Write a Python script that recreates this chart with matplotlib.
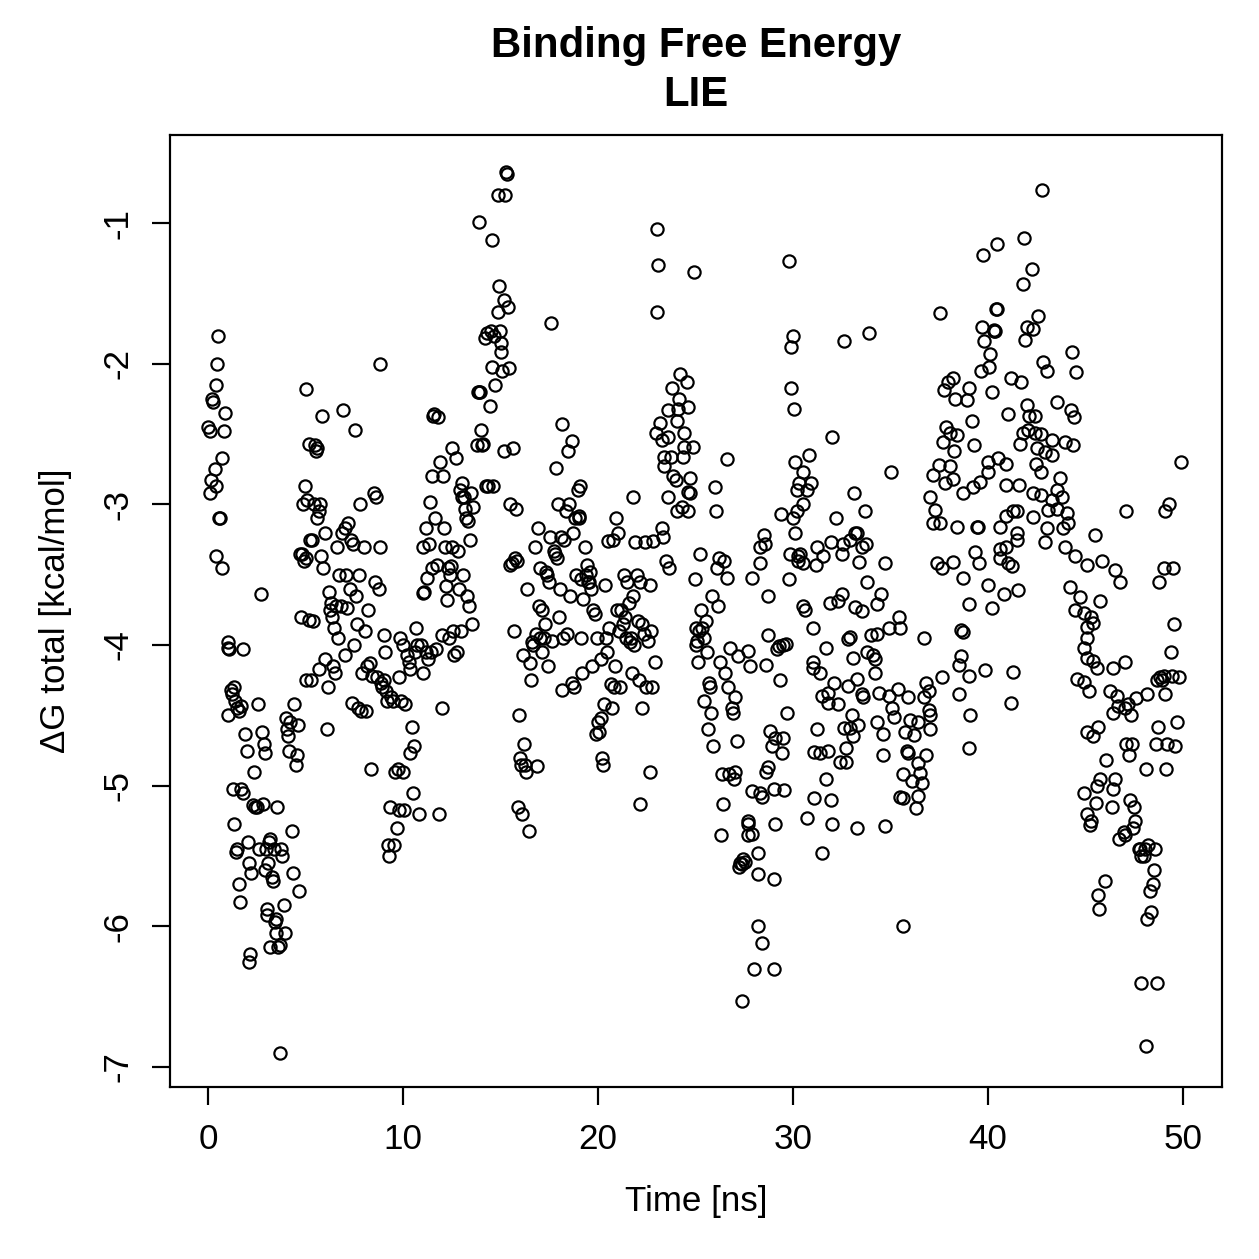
import numpy as np
import matplotlib
matplotlib.use("Agg")
import matplotlib.pyplot as plt

plt.rcParams['font.family'] = ['Liberation Sans', 'DejaVu Sans']
plt.rcParams['axes.unicode_minus'] = False

# (time [ns], dG total [kcal/mol]), in blocks
block_00_10 = [
    (0.0, -2.45), (0.1, -2.48), (0.1, -2.92), (0.15, -2.83), (0.2, -2.25), (0.25, -2.27),
    (0.35, -2.75), (0.4, -2.15), (0.45, -2.0), (0.5, -1.8), (0.4, -2.87), (0.55, -3.1),
    (0.6, -3.1), (0.4, -3.37), (0.7, -3.45), (0.7, -2.67), (0.8, -2.48), (0.85, -2.35),
    (1.0, -4.5), (1.0, -3.98), (1.05, -4.02), (1.1, -4.03), (1.2, -4.32), (1.25, -4.35),
    (1.35, -4.3), (1.4, -4.4), (1.5, -4.45), (1.6, -4.47), (1.7, -4.43), (1.8, -4.03),
    (1.3, -5.02), (1.35, -5.27), (1.45, -5.47), (1.5, -5.45), (1.6, -5.7), (1.65, -5.83),
    (1.7, -5.02), (1.8, -5.05), (1.9, -4.63), (2.0, -4.75), (2.05, -5.4), (2.1, -5.55),
    (2.1, -6.25), (2.15, -6.2), (2.2, -5.62), (2.3, -5.14), (2.35, -4.9), (2.4, -5.15),
    (2.5, -5.15), (2.55, -4.42), (2.6, -5.45), (2.7, -3.64), (2.75, -4.62), (2.8, -5.13),
    (2.85, -4.7), (2.9, -4.77), (2.9, -5.6), (2.95, -5.45), (3.0, -5.88), (3.05, -5.92),
    (3.1, -5.55), (3.15, -5.4), (3.2, -5.38), (3.2, -6.15), (3.3, -5.65), (3.35, -5.68),
    (3.4, -5.45), (3.45, -5.97), (3.5, -5.95), (3.5, -6.05), (3.55, -5.15), (3.6, -6.15),
    (3.7, -6.9), (3.7, -6.13), (3.75, -5.45), (3.8, -5.5), (3.9, -5.85), (3.95, -6.05),
    (4.0, -4.52), (4.05, -4.6), (4.1, -4.65), (4.15, -4.75), (4.2, -4.55), (4.3, -5.32),
    (4.35, -5.62), (4.4, -4.42), (4.5, -4.85), (4.55, -4.78), (4.6, -4.57), (4.65, -5.75),
    (4.7, -3.35), (4.75, -3.8), (4.8, -3.35), (4.85, -3.0), (4.9, -3.4), (4.95, -2.87),
    (5.0, -2.18), (5.0, -4.25), (5.05, -3.38), (5.1, -2.97), (5.2, -2.57), (5.2, -3.82),
    (5.25, -3.25), (5.3, -4.25), (5.35, -3.25), (5.4, -3.83), (5.45, -3.0), (5.5, -2.58),
    (5.55, -2.62), (5.6, -2.6), (5.6, -3.1), (5.7, -3.05), (5.75, -3.0), (5.7, -4.17),
    (5.8, -3.37), (5.85, -2.37), (5.9, -3.45), (6.0, -3.2), (6.0, -4.1), (6.1, -4.6),
    (6.15, -4.3), (6.2, -3.62), (6.25, -3.75), (6.3, -3.7), (6.35, -3.8), (6.4, -4.15),
    (6.45, -3.88), (6.5, -4.2), (6.55, -3.72), (6.6, -3.3), (6.65, -3.95), (6.7, -3.5),
    (6.8, -3.72), (6.85, -3.2), (6.9, -2.33), (7.0, -3.17), (7.0, -4.07), (7.1, -3.5),
    (7.15, -3.74), (7.2, -3.13), (7.3, -3.6), (7.35, -3.25), (7.4, -4.41), (7.45, -3.28),
    (7.5, -4.0), (7.55, -2.47), (7.6, -3.65), (7.65, -3.85), (7.7, -4.45), (7.75, -3.5),
    (7.8, -3.0), (7.85, -4.47), (7.9, -4.2), (8.0, -3.3), (8.05, -3.9), (8.1, -4.47),
    (8.15, -4.15), (8.2, -3.75), (8.3, -4.13), (8.35, -4.88), (8.4, -4.22), (8.5, -2.92),
    (8.55, -3.55), (8.6, -2.95), (8.65, -4.23), (8.8, -2.0), (8.75, -3.6), (8.8, -3.3),
    (8.85, -4.27), (8.9, -4.3), (9.0, -4.25), (9.0, -3.93), (9.1, -4.05), (9.15, -4.33),
    (9.2, -4.4), (9.25, -5.42), (9.3, -5.5), (9.35, -5.15), (9.4, -4.37), (9.5, -4.4),
    (9.55, -5.42), (9.6, -4.9), (9.7, -5.3), (9.75, -4.88), (9.8, -4.23), (9.8, -5.17),
    (9.85, -3.95), (9.9, -4.4),
]

block_10_20 = [
    (10.0, -4.0), (10.0, -4.9), (10.05, -5.17), (10.1, -4.42), (10.2, -4.07), (10.3, -4.12),
    (10.35, -4.17), (10.35, -4.77), (10.45, -4.58), (10.5, -5.05), (10.55, -4.72), (10.6, -4.05),
    (10.65, -3.88), (10.7, -4.0), (10.8, -5.2), (10.9, -4.0), (11.0, -3.63), (11.0, -3.3),
    (11.05, -4.2), (11.1, -3.62), (11.2, -4.05), (11.2, -3.17), (11.25, -3.52), (11.3, -4.1),
    (11.35, -3.28), (11.4, -2.98), (11.45, -4.05), (11.5, -3.45), (11.5, -2.8), (11.55, -2.37),
    (11.6, -2.36), (11.65, -3.1), (11.7, -4.03), (11.75, -3.43), (11.8, -2.38), (11.85, -5.2),
    (11.9, -2.7), (12.0, -4.45), (12.0, -3.93), (12.05, -2.8), (12.1, -3.17), (12.15, -3.3),
    (12.2, -3.58), (12.25, -3.68), (12.3, -3.45), (12.35, -3.95), (12.4, -3.5), (12.45, -3.44),
    (12.5, -2.6), (12.5, -3.3), (12.55, -3.9), (12.6, -4.07), (12.7, -2.67), (12.75, -4.05),
    (12.8, -3.33), (12.85, -3.6), (12.9, -2.9), (12.95, -3.9), (13.0, -2.85), (13.05, -2.95),
    (13.1, -3.5), (13.15, -2.95), (13.2, -3.03), (13.25, -3.1), (13.3, -3.65), (13.35, -3.12),
    (13.4, -3.72), (13.45, -3.25), (13.5, -2.92), (13.55, -3.85), (13.6, -3.02), (13.9, -0.99),
    (13.8, -2.58), (13.85, -2.2), (13.9, -2.2), (13.95, -2.2), (14.0, -2.47), (14.05, -2.58),
    (14.1, -2.57), (14.2, -1.82), (14.25, -2.87), (14.3, -1.78), (14.35, -2.87), (14.55, -1.12),
    (14.45, -2.3), (14.5, -1.77), (14.55, -2.02), (14.6, -2.87), (14.65, -1.8), (14.7, -2.15),
    (14.85, -0.8), (14.85, -1.63), (14.9, -1.45), (14.95, -1.77), (15.0, -1.85), (15.05, -1.92),
    (15.1, -2.05), (15.2, -1.55), (15.2, -2.62), (15.3, -0.64), (15.25, -0.8), (15.35, -0.65),
    (15.4, -1.6), (15.45, -2.03), (15.5, -3.0), (15.5, -3.43), (15.6, -3.42), (15.65, -2.6),
    (15.7, -3.9), (15.75, -3.38), (15.8, -3.03), (15.85, -3.4), (15.9, -5.15), (15.95, -4.5),
    (16.0, -4.8), (16.05, -4.85), (16.1, -5.2), (16.15, -4.07), (16.2, -4.7), (16.25, -4.85),
    (16.3, -4.9), (16.35, -3.6), (16.45, -5.32), (16.5, -4.13), (16.55, -4.25), (16.6, -3.98),
    (16.65, -4.0), (16.75, -3.3), (16.8, -3.92), (16.85, -4.86), (16.9, -3.17), (16.95, -3.72),
    (17.0, -3.95), (17.05, -3.45), (17.15, -4.05), (17.15, -3.75), (17.25, -3.95), (17.3, -3.85),
    (17.35, -3.48), (17.4, -3.5), (17.45, -4.15), (17.5, -3.55), (17.55, -3.23), (17.65, -3.97),
    (17.6, -1.71), (17.75, -3.33), (17.8, -3.35), (17.85, -2.74), (17.9, -3.38), (17.95, -3.0),
    (18.0, -3.8), (18.05, -3.6), (18.1, -3.23), (18.15, -2.43), (18.15, -4.32), (18.2, -3.95),
    (18.25, -3.25), (18.35, -3.05), (18.4, -3.92), (18.45, -2.62), (18.5, -3.0), (18.55, -3.65),
    (18.65, -4.27), (18.65, -2.55), (18.7, -3.2), (18.75, -4.3), (18.8, -3.1), (18.85, -3.5),
    (18.95, -2.9), (19.0, -3.1), (19.05, -3.08), (19.1, -2.87), (19.15, -3.95), (19.15, -3.53),
    (19.2, -4.2), (19.25, -3.67), (19.35, -3.3), (19.4, -3.5), (19.45, -3.43), (19.5, -3.55),
    (19.55, -3.55), (19.6, -3.48), (19.65, -3.6), (19.7, -4.15), (19.75, -3.75), (19.85, -3.78),
    (19.9, -4.63), (19.95, -3.95),
]

block_20_27 = [
    (20.0, -4.55), (20.05, -4.62), (20.15, -4.52), (20.15, -4.1), (20.2, -4.8), (20.25, -4.85),
    (20.3, -4.42), (20.35, -3.57), (20.4, -3.95), (20.45, -4.05), (20.5, -3.26), (20.55, -3.88),
    (20.65, -4.28), (20.7, -4.45), (20.75, -3.25), (20.8, -4.3), (20.85, -4.15), (20.9, -3.1),
    (20.95, -3.75), (21.05, -3.2), (21.1, -3.9), (21.15, -4.3), (21.2, -3.75), (21.3, -3.85),
    (21.35, -3.5), (21.4, -3.8), (21.45, -3.95), (21.5, -3.55), (21.6, -3.7), (21.65, -3.98),
    (21.7, -3.95), (21.75, -4.2), (21.8, -3.65), (21.85, -4.0), (21.9, -3.27), (22.15, -5.13),
    (22.0, -3.5), (22.05, -3.83), (22.1, -4.25), (22.15, -3.55), (22.25, -4.45), (22.25, -3.85),
    (22.35, -3.92), (22.4, -3.27), (22.45, -4.3), (22.55, -3.97), (22.65, -4.9), (22.65, -3.57),
    (22.7, -3.9), (22.75, -4.3), (22.8, -3.26), (22.9, -4.12), (23.3, -3.17), (23.35, -3.23),
    (23.5, -3.4), (23.65, -3.45), (24.05, -3.05), (24.3, -3.02), (24.6, -3.05),
    (24.95, -3.53), (25.0, -3.88), (25.05, -4.0), (25.1, -3.97), (25.15, -4.12), (25.2, -3.9),
    (25.25, -3.35), (25.3, -3.75), (25.35, -3.88), (25.45, -3.95), (25.45, -4.4), (25.55, -3.83),
    (25.6, -4.05), (25.65, -4.6), (25.7, -4.27), (25.75, -4.3), (25.8, -4.48), (25.85, -3.65),
    (25.9, -4.72), (26.05, -3.05), (26.1, -3.45), (26.15, -3.72), (26.2, -3.38), (26.25, -4.12),
    (26.3, -5.35), (26.35, -4.92), (26.4, -5.13), (26.45, -3.4), (26.5, -4.2), (26.6, -3.52),
    (26.65, -4.3), (26.7, -4.92), (26.75, -4.02), (26.85, -4.45), (26.9, -4.48), (26.95, -4.95),
    (27.0, -4.37), (27.05, -4.9), (27.15, -4.68), (27.2, -4.08), (27.25, -5.58), (27.3, -5.55),
    (27.45, -5.52),
]

# upper band 21-31 ns
block_upper_21_31 = [
    (23.05, -1.04), (23.1, -1.30), (24.9, -1.35), (23.05, -1.63), (29.8, -1.27), (30.0, -1.8),
    (29.9, -1.88), (29.9, -2.17), (30.07, -2.32), (24.23, -2.07), (24.54, -2.13), (23.77, -2.17),
    (24.13, -2.25), (24.64, -2.31), (23.57, -2.33), (24.08, -2.32), (24.03, -2.41), (23.16, -2.42),
    (22.95, -2.49), (23.3, -2.54), (23.6, -2.52), (24.39, -2.49), (24.39, -2.59), (24.85, -2.59),
    (24.34, -2.66), (23.36, -2.66), (23.72, -2.66), (23.36, -2.73), (23.87, -2.80), (23.98, -2.83),
    (24.74, -2.81), (24.64, -2.91), (24.74, -2.92), (26.0, -2.88), (26.6, -2.68), (21.8, -2.95),
    (23.6, -2.95), (30.8, -2.65), (30.1, -2.70), (30.5, -2.77), (30.3, -2.85), (30.9, -2.85),
    (30.2, -2.90), (30.7, -2.90),
]

# middle band 27-37 ns
block_mid_27_37 = [
    (27.9, -3.52), (29.8, -3.53), (28.7, -3.65), (30.5, -3.72), (30.6, -3.75), (31.9, -3.70),
    (32.3, -3.69), (32.5, -3.64), (33.2, -3.73), (33.55, -3.76), (33.8, -3.55), (34.5, -3.64),
    (34.3, -3.71), (34.9, -3.88), (35.45, -3.80), (35.5, -3.88), (31.0, -3.88), (28.7, -3.93),
    (29.3, -4.01), (29.5, -4.0), (29.66, -3.99), (29.2, -4.03), (27.7, -4.04), (27.8, -4.15),
    (28.6, -4.14), (29.35, -4.25), (31.7, -4.02), (32.9, -3.94), (32.8, -3.96), (34.0, -3.93),
    (34.3, -3.92), (33.1, -4.09), (33.8, -4.05), (34.1, -4.07), (34.2, -4.10), (31.05, -4.12),
    (31.0, -4.16), (31.4, -4.2), (34.2, -4.2), (32.1, -4.27), (32.8, -4.29), (33.3, -4.24),
    (31.5, -4.36), (31.8, -4.41), (31.8, -4.34), (32.3, -4.42), (33.55, -4.35), (33.6, -4.37),
    (34.4, -4.34), (34.9, -4.36), (35.4, -4.31), (35.9, -4.37), (29.7, -4.48), (31.25, -4.60),
    (33.0, -4.5), (32.6, -4.59), (32.9, -4.59), (33.35, -4.57), (33.1, -4.65), (34.3, -4.55),
    (34.6, -4.63), (35.1, -4.45), (35.2, -4.51), (36.0, -4.53), (36.4, -4.55), (35.76, -4.62),
    (36.2, -4.64), (35.86, -4.75), (35.9, -4.77), (36.8, -4.78), (36.4, -4.84), (35.66, -4.92),
    (36.5, -4.91), (36.1, -4.97), (36.6, -4.98), (35.5, -5.08), (35.66, -5.09), (36.4, -5.07),
    (36.3, -5.16), (34.6, -4.78), (31.1, -4.76), (31.4, -4.77), (31.8, -4.75), (32.4, -4.83),
    (32.7, -4.83), (32.7, -4.73), (31.7, -4.95), (28.8, -4.61), (29.1, -4.66), (29.5, -4.66),
    (28.9, -4.72), (29.45, -4.77), (28.6, -4.90), (28.7, -4.87), (27.9, -5.04), (28.3, -5.05),
    (28.4, -5.08), (29.0, -5.02), (29.55, -5.03), (31.1, -5.09), (31.96, -5.10), (30.7, -5.23),
    (32.0, -5.27), (33.3, -5.30), (34.7, -5.29), (29.1, -5.27), (27.7, -5.25), (27.7, -5.27),
    (27.7, -5.35), (27.9, -5.34), (28.2, -5.48), (31.5, -5.48), (28.3, -3.42), (30.5, -3.42),
    (31.2, -3.43), (33.4, -3.41), (34.7, -3.42),
    (28.3, -3.3), (28.5, -3.22), (28.55, -3.28), (29.4, -3.07), (29.85, -3.35), (30.1, -3.2),
    (30.25, -3.4), (30.0, -3.1), (30.2, -3.05), (30.25, -3.37), (30.35, -3.35), (30.5, -3.0),
    (31.25, -3.3), (31.55, -3.37), (31.95, -3.27), (32.2, -3.1), (32.5, -3.35), (32.55, -3.28),
    (32.9, -3.25), (33.15, -2.92), (33.2, -3.2), (33.3, -3.2), (33.55, -3.3), (33.7, -3.05),
    (33.75, -3.28), (35.0, -2.77), (32.0, -2.52), (32.6, -1.84), (33.9, -1.78),
]

# lowest points 27-36 ns
block_low_27_36 = [
    (27.36, -5.56), (27.56, -5.54), (28.2, -5.63), (29.0, -5.66), (28.2, -6.0), (28.43, -6.12),
    (28.0, -6.3), (29.0, -6.3), (27.4, -6.53), (35.65, -6.0),
]

# upper band 36.5-46.8 ns
block_upper_37_47 = [
    (42.78, -0.765), (41.85, -1.107), (40.47, -1.15), (39.75, -1.23), (42.26, -1.33), (41.8, -1.43),
    (37.55, -1.64), (40.42, -1.61), (40.45, -1.61), (42.57, -1.66), (39.7, -1.74), (40.3, -1.77),
    (40.35, -1.77), (40.32, -1.76), (39.8, -1.84), (42.0, -1.74), (42.3, -1.75), (41.9, -1.83),
    (40.1, -1.93), (44.3, -1.92), (42.8, -1.99), (43.0, -2.05), (44.5, -2.06), (40.06, -2.02),
    (39.65, -2.05), (41.2, -2.1), (41.7, -2.13), (40.2, -2.2), (38.2, -2.1), (37.96, -2.13),
    (37.76, -2.19), (39.0, -2.17), (38.9, -2.26), (38.3, -2.25), (41.0, -2.36), (43.55, -2.27),
    (42.0, -2.29), (42.1, -2.37), (42.4, -2.37), (44.26, -2.33), (44.4, -2.38), (39.2, -2.41),
    (37.86, -2.45), (38.06, -2.49), (38.4, -2.51), (37.7, -2.56), (38.27, -2.62), (39.3, -2.58),
    (41.65, -2.57), (41.8, -2.49), (42.06, -2.47), (42.4, -2.49), (42.7, -2.5), (43.3, -2.54),
    (43.95, -2.56), (44.37, -2.58), (42.5, -2.6), (42.9, -2.63), (43.3, -2.65), (37.5, -2.72),
    (38.06, -2.73), (40.0, -2.7), (40.5, -2.67), (40.9, -2.71), (42.47, -2.71), (42.7, -2.77),
    (37.2, -2.79), (37.8, -2.85), (38.2, -2.82), (40.0, -2.77), (39.6, -2.84), (39.25, -2.88),
    (38.7, -2.92), (40.9, -2.86), (41.6, -2.86), (42.3, -2.92), (42.7, -2.93), (43.7, -2.81),
    (43.55, -2.90), (43.8, -2.95), (43.3, -2.97), (43.1, -3.04), (43.55, -3.03), (44.06, -3.06),
    (44.1, -3.13), (43.85, -3.17), (43.03, -3.17), (42.9, -3.27), (43.95, -3.3), (37.04, -2.95),
    (37.3, -3.04), (37.2, -3.13), (37.55, -3.13), (38.4, -3.16), (39.45, -3.16), (39.5, -3.16),
    (40.6, -3.16), (40.9, -3.08), (41.3, -3.05), (41.5, -3.05), (42.3, -3.09), (41.5, -3.2),
    (41.5, -3.25), (45.5, -3.22), (39.35, -3.34), (39.55, -3.42), (40.6, -3.32), (40.9, -3.30),
    (40.6, -3.38), (41.0, -3.42), (41.24, -3.44), (37.4, -3.42), (37.65, -3.45), (38.2, -3.41),
    (38.7, -3.52), (40.0, -3.57), (40.8, -3.64), (41.55, -3.61), (39.0, -3.71), (40.2, -3.74),
    (44.2, -3.59), (44.7, -3.66), (44.47, -3.75), (44.9, -3.77), (45.3, -3.80), (45.4, -3.84),
    (45.75, -3.69), (45.85, -3.40), (45.08, -3.43), (44.47, -3.37), (46.5, -3.47), (38.6, -3.89),
    (38.7, -3.91), (36.7, -3.95), (45.1, -3.87), (45.06, -3.95), (44.9, -4.02), (45.1, -4.09),
    (45.4, -4.11), (45.6, -4.16), (46.4, -4.16), (38.6, -4.08), (38.5, -4.14), (37.65, -4.23),
    (39.0, -4.22), (39.85, -4.18), (41.3, -4.19), (44.57, -4.24), (44.9, -4.26), (45.2, -4.33),
    (46.26, -4.33), (46.6, -4.36), (46.4, -4.48), (36.8, -4.27), (36.95, -4.33), (36.7, -4.37),
    (36.95, -4.46), (37.04, -4.5), (37.0, -4.6), (38.5, -4.35), (41.2, -4.41), (39.1, -4.5),
    (45.1, -4.62), (45.65, -4.58), (45.4, -4.65), (39.0, -4.73),
]

block_44_50 = [
    (44.9, -5.05), (45.1, -5.2), (45.25, -5.28), (45.3, -5.25), (45.55, -5.12), (45.6, -5.0),
    (45.65, -5.78), (45.7, -5.88), (45.75, -4.95), (46.0, -5.68), (46.05, -4.82), (46.35, -5.15),
    (46.4, -5.02), (46.5, -4.95), (46.7, -5.38), (46.75, -3.55), (46.65, -4.43),
    (47.1, -3.05), (46.95, -5.33), (47.0, -5.35), (47.0, -4.12), (47.05, -4.45), (47.1, -4.7),
    (47.2, -4.42), (47.25, -4.78), (47.3, -5.1), (47.35, -4.5), (47.4, -4.7), (47.45, -5.3),
    (47.5, -5.15), (47.55, -5.25), (47.6, -4.38), (47.85, -6.4), (47.75, -5.45), (47.8, -5.45),
    (47.85, -5.5), (48.1, -6.85), (48.15, -5.95), (48.0, -5.5), (48.05, -5.45), (48.1, -4.88),
    (48.15, -4.35), (48.2, -5.42), (48.3, -5.75), (48.35, -5.9), (48.65, -6.4), (48.45, -5.7),
    (48.5, -5.6), (48.55, -5.45), (48.6, -4.7), (48.65, -4.25), (48.7, -4.58), (48.75, -3.55),
    (48.8, -4.23), (49.1, -3.05), (48.9, -4.25), (49.0, -4.22), (49.05, -3.45), (49.1, -4.35),
    (49.15, -4.88), (49.2, -4.7), (49.3, -3.0), (49.4, -4.05), (49.45, -4.22), (49.5, -3.45),
    (49.55, -3.85), (49.6, -4.72), (49.7, -4.55), (49.9, -2.7), (49.8, -4.23),
]

blocks = [block_00_10, block_10_20, block_20_27, block_upper_21_31, block_mid_27_37,
          block_low_27_36, block_upper_37_47, block_44_50]
pts = np.array([p for b in blocks for p in b])
time = pts[:, 0]
dg = pts[:, 1]

fig = plt.figure(figsize=(1259 / 210, 1259 / 210), dpi=210)
ax = fig.add_axes([170 / 1259, 1 - 1087 / 1259, (1222 - 170) / 1259, (1087 - 135) / 1259])

ax.plot(time, dg, linestyle='None', marker='o', markersize=4.2,
        markerfacecolor='none', markeredgecolor='black', markeredgewidth=0.75)

ax.set_xlim(-1.95, 52.0)
ax.set_ylim(-7.142, -0.374)
ax.set_xticks([0, 10, 20, 30, 40, 50])
ax.set_yticks([-7, -6, -5, -4, -3, -2, -1])
ax.tick_params(direction='out', length=6.2, width=0.75, labelsize=12, pad=6)
for lab in ax.get_yticklabels():
    lab.set_rotation(90)
    lab.set_verticalalignment('center')
for s in ax.spines.values():
    s.set_linewidth(0.75)

ax.set_xlabel('Time [ns]', fontsize=12, labelpad=10)
ax.set_ylabel('ΔG total [kcal/mol]', fontsize=12, labelpad=10)
ax.set_title('Binding Free Energy\nLIE', fontsize=14.4, fontweight='bold', pad=10,
             linespacing=1.28)

fig.savefig('out.png', dpi=210)
